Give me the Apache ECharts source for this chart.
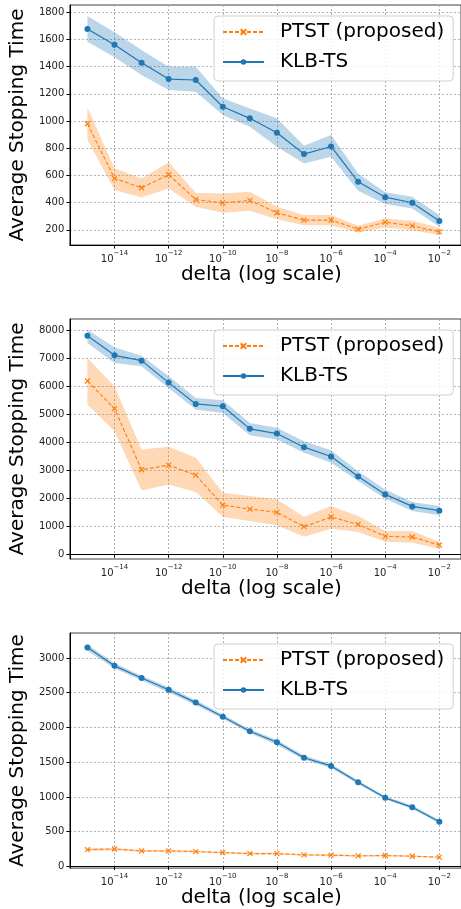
<!DOCTYPE html>
<html>
<head>
<meta charset="utf-8">
<script src="https://cdn.jsdelivr.net/npm/echarts@6/dist/echarts.min.js"></script>
<style>
  html, body { margin: 0; padding: 0; background: #fff; }
  #chart { width: 461px; height: 909px; }
</style>
</head>
<body>
<div id="chart"></div>
<script>
// x positions are log10(delta)
var expo = [-15, -14, -13, -12, -11, -10, -9, -8, -7, -6, -5, -4, -3, -2];
var xTicks = [-14, -12, -10, -8, -6, -4, -2];

// panel 1
var klb1 = [1677, 1562, 1429, 1309, 1302, 1105, 1020, 914, 757, 813, 553, 440, 399, 264];
var klb1Hi = [1773, 1653, 1523, 1400, 1400, 1167, 1093, 1020, 818, 897, 615, 477, 443, 308];
var klb1Lo = [1584, 1469, 1339, 1228, 1216, 1044, 958, 811, 688, 737, 487, 389, 357, 222];
var ptst1 = [980, 578, 509, 605, 423, 398, 416, 325, 271, 271, 205, 256, 229, 185];
var ptst1Hi = [1100, 652, 578, 696, 472, 467, 480, 369, 308, 308, 229, 283, 266, 215];
var ptst1Lo = [860, 492, 438, 504, 369, 325, 340, 278, 234, 234, 180, 217, 197, 161];
var yTicks1 = [200, 400, 600, 800, 1000, 1200, 1400, 1600, 1800];

// panel 2
var klb2 = [7821, 7119, 6929, 6143, 5381, 5298, 4488, 4321, 3833, 3500, 2786, 2143, 1714, 1560];
var klb2Hi = [8036, 7405, 7107, 6369, 5595, 5512, 4702, 4524, 4048, 3726, 2976, 2321, 1869, 1726];
var klb2Lo = [7560, 6845, 6726, 5952, 5179, 5060, 4262, 4107, 3631, 3274, 2619, 1988, 1548, 1393];
var ptst2 = [6202, 5214, 3024, 3190, 2833, 1762, 1619, 1500, 988, 1333, 1071, 643, 619, 333];
var ptst2Hi = [7024, 6012, 3750, 3845, 3452, 2202, 2083, 1964, 1345, 1726, 1369, 833, 833, 452];
var ptst2Lo = [5357, 4405, 2286, 2500, 2226, 1345, 1190, 1036, 631, 917, 798, 452, 417, 202];
var yTicks2 = [0, 1000, 2000, 3000, 4000, 5000, 6000, 7000, 8000];

// panel 3
var klb3 = [3151, 2887, 2712, 2542, 2358, 2154, 1946, 1786, 1564, 1446, 1210, 987, 850, 643];
var klb3Hi = [3195, 2925, 2745, 2580, 2390, 2185, 1975, 1820, 1595, 1475, 1235, 1010, 875, 668];
var klb3Lo = [3105, 2850, 2680, 2505, 2325, 2125, 1915, 1750, 1535, 1415, 1185, 965, 825, 620];
var ptst3 = [241, 250, 222, 222, 213, 198, 184, 184, 165, 161, 151, 156, 146, 132];
var ptst3Hi = [260, 265, 236, 234, 226, 210, 196, 196, 177, 173, 162, 168, 157, 143];
var ptst3Lo = [222, 232, 208, 208, 200, 186, 172, 172, 153, 149, 140, 144, 135, 121];
var yTicks3 = [0, 500, 1000, 1500, 2000, 2500, 3000];

var BLUE = '#1f77b4', ORANGE = '#ff7f0e';
var FONT = 'DejaVu Sans';
var gridTops = [5, 319, 633];
var gridH = [240, 240, 239];
var yRange = [[88, 1854], [-168, 8419], [-25, 3360]];
var yTickSets = [yTicks1, yTicks2, yTicks3];

var chart = echarts.init(document.getElementById('chart'));

function band(gi, lo, hi, color) {
    return {
        type: 'custom',
        xAxisIndex: gi,
        yAxisIndex: gi,
        silent: true,
        z: 1,
        data: expo.map(function (x, i) { return [x, lo[i], hi[i]]; }),
        encode: { x: 0, y: [1, 2] },
        renderItem: function (params, api) {
            if (params.dataIndex !== 0) return;
            var pts = [];
            for (var i = 0; i < expo.length; i++) pts.push(api.coord([expo[i], hi[i]]));
            for (var j = expo.length - 1; j >= 0; j--) pts.push(api.coord([expo[j], lo[j]]));
            return { type: 'polygon', shape: { points: pts }, style: { fill: color } };
        }
    };
}

function ptstLine(gi, vals) {
    return {
        name: 'PTST (proposed)',
        type: 'line',
        xAxisIndex: gi,
        yAxisIndex: gi,
        z: 3,
        data: expo.map(function (x, i) { return [x, vals[i]]; }),
        symbol: 'path://M0,0L10,10M10,0L0,10',
        symbolSize: 5,
        lineStyle: { color: ORANGE, width: 1.1, type: [4, 2] },
        itemStyle: { color: ORANGE, borderColor: ORANGE, borderWidth: 1.2 }
    };
}

function klbLine(gi, vals) {
    return {
        name: 'KLB-TS',
        type: 'line',
        xAxisIndex: gi,
        yAxisIndex: gi,
        z: 3,
        data: expo.map(function (x, i) { return [x, vals[i]]; }),
        symbol: 'circle',
        symbolSize: 6,
        lineStyle: { color: BLUE, width: 1.2 },
        itemStyle: { color: BLUE }
    };
}

var grids = [], xAxes = [], yAxes = [], legends = [];
for (var g = 0; g < 3; g++) {
    grids.push({ left: 60.5, top: gridTops[g], width: 406, height: gridH[g], show: true, borderColor: '#444', borderWidth: 1 });
    xAxes.push({
        type: 'value', gridIndex: g, min: -15.65, max: -1.2,
        name: 'delta (log scale)', nameLocation: 'middle', nameGap: 14,
        nameTextStyle: { fontFamily: FONT, fontSize: 20, color: '#000', padding: [0, 0, 0, -8] },
        axisLine: { lineStyle: { color: '#000', width: 1 } },
        axisTick: { customValues: xTicks, length: 3.5, lineStyle: { color: '#000' } },
        axisLabel: {
            customValues: xTicks, margin: 5,
            formatter: function (v) { return '{b|10}{s|\u2212' + (-v) + '}'; },
            rich: {
                b: { fontFamily: FONT, fontSize: 10, color: '#222', lineHeight: 14, verticalAlign: 'bottom' },
                s: { fontFamily: FONT, fontSize: 7, color: '#222', lineHeight: 14, verticalAlign: 'top' }
            }
        },
        splitLine: { show: true, lineStyle: { color: '#b0b0b0', type: [2, 2], width: 1 } }
    });
    yAxes.push({
        type: 'value', gridIndex: g, min: yRange[g][0], max: yRange[g][1],
        name: 'Average Stopping Time', nameLocation: 'middle', nameGap: 35,
        nameTextStyle: { fontFamily: FONT, fontSize: 20, color: '#000' },
        axisLine: { show: true, lineStyle: { color: '#000', width: 1 } },
        axisTick: { show: true, customValues: yTickSets[g], length: 3.5, lineStyle: { color: '#000' } },
        axisLabel: {
            customValues: yTickSets[g], margin: 5.5, fontFamily: FONT, fontSize: 10, color: '#222',
            formatter: function (v) { return String(v); }
        },
        splitLine: { show: true, lineStyle: { color: '#b0b0b0', type: [2, 2], width: 1 } }
    });
    legends.push({
        left: 214, top: gridTops[g] + 11, orient: 'vertical',
        data: ['PTST (proposed)', 'KLB-TS'],
        itemWidth: 41, itemHeight: 7, itemGap: 10,
        padding: [6, 9, 9, 8],
        backgroundColor: 'rgba(255,255,255,0.8)',
        borderColor: '#d0d0d0', borderWidth: 1, borderRadius: 4,
        selectedMode: false,
        textStyle: { fontFamily: FONT, fontSize: 20, color: '#000', lineHeight: 20, padding: [0, 0, 0, 11] }
    });
}

var option = {
    animation: false,
    backgroundColor: '#fff',
    grid: grids,
    xAxis: xAxes,
    yAxis: yAxes,
    legend: legends,
    series: [
        band(0, klb1Lo, klb1Hi, 'rgba(31,119,180,0.3)'),
        band(0, ptst1Lo, ptst1Hi, 'rgba(255,127,14,0.3)'),
        ptstLine(0, ptst1), klbLine(0, klb1),
        band(1, klb2Lo, klb2Hi, 'rgba(31,119,180,0.3)'),
        band(1, ptst2Lo, ptst2Hi, 'rgba(255,127,14,0.3)'),
        ptstLine(1, ptst2), klbLine(1, klb2),
        band(2, klb3Lo, klb3Hi, 'rgba(31,119,180,0.3)'),
        band(2, ptst3Lo, ptst3Hi, 'rgba(255,127,14,0.3)'),
        ptstLine(2, ptst3), klbLine(2, klb3)
    ]
};
chart.setOption(option);
window.onresize = chart.resize;
</script>
</body>
</html>
